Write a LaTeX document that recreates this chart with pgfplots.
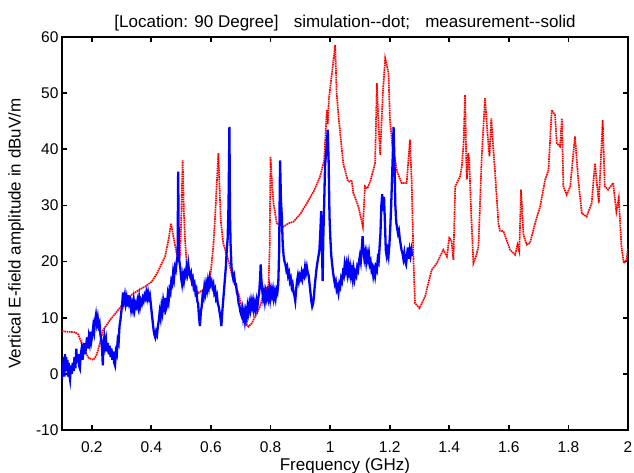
\documentclass[border=0pt]{standalone}
\usepackage{fontspec}
\setmainfont{Liberation Sans}
\usepackage{pgfplots}
\pgfplotsset{compat=1.18}
\begin{document}
\begin{tikzpicture}
\begin{axis}[
  scale only axis, width=566bp, height=393bp,
  xmin=0.1, xmax=2, ymin=-10, ymax=60,
  xtick={0.2,0.4,0.6,0.8,1,1.2,1.4,1.6,1.8,2},
  ytick={-10,0,10,20,30,40,50,60},
  tick align=inside, major tick length=5bp,
  axis line style={line width=1.8bp},
  every tick/.style={black, line width=1.8bp},
  /pgf/number format/assume math mode=true,
  font=\fontsize{17bp}{20bp}\selectfont,
  tick label style={font=\fontsize{15.5bp}{18bp}\selectfont},
  xticklabel style={yshift=-8bp},
  title={[Location: 90 Degree]\hspace{0.9em}simulation{-}{-}dot;\hspace{0.9em}measurement{-}{-}solid},
  xlabel={Frequency (GHz)},
  ylabel={Vertical E-field amplitude in dBuV/m},
  xlabel style={yshift=1bp},
  ylabel style={yshift=5bp},
  title style={yshift=-4bp},
]
\addplot[red, line width=1.7bp, dash pattern=on 1.6bp off 0.7bp] coordinates {
(0.100,7.6)(0.120,7.5)(0.144,7.4)(0.155,7.0)(0.165,5.5)(0.175,4.2)(0.190,2.8)(0.205,2.5)
(0.215,3.2)(0.225,5.0)(0.238,7.8)(0.260,9.5)(0.289,11.4)(0.310,12.8)(0.334,14.1)(0.360,15.0)
(0.380,15.6)(0.401,16.4)(0.420,18.0)(0.446,20.9)(0.458,24.0)(0.466,26.8)(0.472,25.0)(0.479,23.0)
(0.490,20.3)(0.496,21.0)(0.500,27.0)(0.505,38.0)(0.509,29.0)(0.513,24.0)(0.518,20.0)(0.524,18.0)
(0.541,15.6)(0.558,14.4)(0.574,15.0)(0.597,17.0)(0.608,22.7)(0.614,28.0)(0.619,33.4)(0.625,39.3)
(0.629,33.0)(0.633,27.4)(0.641,23.3)(0.658,20.3)(0.675,16.7)(0.692,14.4)(0.703,12.0)(0.714,9.0)
(0.726,8.4)(0.737,9.0)(0.748,10.2)(0.765,12.0)(0.780,15.0)(0.793,15.6)(0.797,22.0)(0.800,38.7)
(0.805,34.0)(0.810,30.4)(0.821,26.8)(0.843,26.2)(0.860,26.8)(0.877,27.1)(0.900,28.5)(0.922,30.4)
(0.945,32.5)(0.966,35.1)(0.980,38.0)(0.989,47.0)(0.992,44.5)(0.996,49.0)(1.005,53.0)(1.017,58.6)
(1.022,50.0)(1.028,46.0)(1.044,37.5)(1.056,35.1)(1.060,34.3)(1.067,34.2)(1.072,34.5)(1.078,32.2)
(1.095,29.8)(1.110,26.2)(1.117,33.4)(1.125,33.0)(1.134,34.2)(1.151,37.5)(1.157,51.8)(1.162,45.0)
(1.168,39.0)(1.177,50.0)(1.185,56.2)(1.196,53.6)(1.201,45.2)(1.210,40.0)(1.218,38.1)(1.225,36.0)
(1.240,34.0)(1.257,34.0)(1.268,41.7)(1.274,34.0)(1.280,20.0)(1.285,12.6)(1.300,11.7)(1.319,13.8)
(1.335,17.3)(1.341,18.5)(1.358,19.7)(1.380,22.1)(1.392,20.9)(1.400,24.2)(1.407,23.8)(1.414,20.3)
(1.420,33.4)(1.436,35.1)(1.442,36.9)(1.448,41.0)(1.453,49.7)(1.457,38.0)(1.459,34.6)(1.464,39.3)
(1.467,38.0)(1.474,28.0)(1.481,19.7)(1.490,21.0)(1.498,22.7)(1.509,38.7)(1.520,49.1)(1.528,43.0)
(1.535,38.7)(1.541,45.5)(1.548,40.0)(1.554,35.7)(1.565,26.8)(1.570,25.5)(1.582,25.4)(1.604,22.1)
(1.621,21.2)(1.629,23.0)(1.635,21.8)(1.641,32.8)(1.649,24.8)(1.660,23.0)(1.671,23.3)(1.688,26.8)
(1.705,29.8)(1.722,34.6)(1.733,36.3)(1.744,47.0)(1.755,46.1)(1.761,41.1)(1.772,40.5)(1.778,45.5)
(1.783,33.4)(1.794,31.9)(1.806,33.4)(1.822,42.3)(1.833,34.6)(1.845,28.6)(1.861,28.0)(1.878,30.4)
(1.889,37.5)(1.902,30.4)(1.915,45.2)(1.922,33.4)(1.933,32.8)(1.950,34.0)(1.961,28.9)(1.969,31.3)
(1.978,22.7)(1.986,19.7)(1.995,20.3)(2.000,22.4)
};
\addplot[blue, line width=2.3bp] coordinates {
(0.100,-1)(0.102,2)(0.104,0)(0.106,3)(0.108,-0.5)(0.110,3.5)(0.112,1)(0.114,3)(0.116,0.5)(0.118,2.5)
(0.120,-0.5)(0.122,2)(0.124,0)(0.127,-1)(0.130,1.5)(0.133,0)(0.136,2)(0.139,0.5)(0.142,3)(0.145,1)
(0.148,4.5)(0.151,2)(0.154,3.5)(0.157,1.5)(0.160,1)(0.163,3.5)(0.166,4.5)(0.169,2.5)(0.172,4)(0.175,5.5)
(0.178,3.5)(0.181,5)(0.184,6.5)(0.187,4.5)(0.190,6.5)(0.193,5.5)(0.196,7.5)(0.199,6)(0.202,7)(0.205,8.5)
(0.208,7.5)(0.211,9.5)(0.214,10.5)(0.217,9)(0.220,10)(0.223,8.5)(0.226,9)(0.229,7)(0.232,6)(0.235,4)
(0.237,1.5)(0.239,5)(0.242,6.5)(0.245,5)(0.248,6)(0.251,4)(0.254,5.5)(0.257,3.5)(0.260,5)(0.263,3)
(0.266,4.5)(0.269,2.5)(0.272,4)(0.275,2)(0.278,1.5)(0.281,4)(0.284,3.5)(0.287,6)(0.290,5.5)(0.293,8.5)
(0.296,9.5)(0.299,11)(0.302,12.5)(0.305,14.5)(0.308,13)(0.311,14)(0.314,12.5)(0.317,13.5)(0.320,12)(0.323,14)
(0.326,12.5)(0.329,13)(0.332,11.5)(0.335,12.5)(0.338,11.5)(0.341,13)(0.344,11.5)(0.347,12.5)(0.350,12)(0.353,13)
(0.356,12)(0.359,13.5)(0.362,12)(0.365,13)(0.368,12.5)(0.371,13.5)(0.374,13)(0.377,14)(0.380,13.5)(0.383,14.5)
(0.386,13.5)(0.389,14.5)(0.392,13.5)(0.395,14)(0.398,12.5)(0.401,11)(0.404,9.5)(0.407,8)(0.410,7)(0.413,6.5)
(0.416,7.5)(0.419,7)(0.422,8.5)(0.425,9.5)(0.428,11)(0.431,10)(0.434,12)(0.437,11)(0.440,13)(0.443,12)
(0.446,13.5)(0.449,11.5)(0.452,12)(0.455,14)(0.458,13)(0.461,15)(0.464,14.5)(0.467,16.5)(0.470,16)(0.473,18)
(0.476,17)(0.479,19)(0.482,18.5)(0.485,20)(0.488,21)(0.490,36)(0.492,22)(0.494,20)(0.497,19)(0.500,17)
(0.503,16)(0.506,17.5)(0.509,16.5)(0.512,18)(0.515,17.5)(0.518,19)(0.521,18)(0.524,19.5)(0.527,18)(0.530,17.5)
(0.533,18)(0.536,16.5)(0.539,17)(0.542,15.5)(0.545,16)(0.548,14.5)(0.551,15)(0.554,13)(0.557,12.5)(0.560,10)
(0.563,8.5)(0.566,11)(0.569,12)(0.572,14)(0.575,13.5)(0.578,15.5)(0.581,14.5)(0.584,16)(0.587,15)(0.590,16.5)
(0.593,15.5)(0.596,17)(0.599,16)(0.602,16.5)(0.605,15.5)(0.608,16)(0.611,14.5)(0.614,15)(0.617,13.5)(0.620,14)
(0.623,12.5)(0.626,12)(0.629,11)(0.632,10)(0.635,8.5)(0.638,11)(0.641,13)(0.644,15)(0.647,17)(0.650,19)
(0.653,22)(0.656,24)(0.659,30)(0.662,44)(0.664,28)(0.666,23)(0.669,19)(0.672,18)(0.675,17)(0.678,17.5)
(0.681,16)(0.684,16)(0.687,14.5)(0.690,14)(0.693,12.5)(0.696,12)(0.699,11)(0.702,10.5)(0.705,11.5)(0.708,10)
(0.711,11)(0.714,9.5)(0.717,11)(0.720,10)(0.723,12)(0.726,11)(0.729,12.5)(0.732,11.5)(0.735,13)(0.738,12)
(0.741,13)(0.744,11.5)(0.747,12.5)(0.750,11.5)(0.753,13)(0.756,12)(0.759,13.5)(0.762,14.5)(0.765,17)(0.767,19.5)
(0.769,17)(0.772,15)(0.775,13.5)(0.778,14.5)(0.781,13)(0.784,14.5)(0.787,13.5)(0.790,14.5)(0.793,13.5)(0.796,15)
(0.799,13.5)(0.802,15)(0.805,14)(0.808,15)(0.811,13.5)(0.814,14.5)(0.817,13.5)(0.820,15)(0.823,14.5)(0.826,16)
(0.829,22)(0.832,38)(0.835,31)(0.838,28)(0.841,23)(0.844,21)(0.847,20)(0.850,19.5)(0.853,18.5)(0.856,19)
(0.859,17.5)(0.862,18)(0.865,16.5)(0.868,17)(0.871,15.5)(0.874,16)(0.877,14.5)(0.880,14)(0.883,13)(0.886,15)
(0.889,16.5)(0.892,17.5)(0.895,16.5)(0.898,17.5)(0.901,17)(0.904,18)(0.907,17)(0.910,18)(0.913,17.5)(0.916,19)
(0.919,18)(0.922,19)(0.925,18)(0.928,17.5)(0.931,16)(0.934,14.5)(0.937,13)(0.940,12)(0.943,12.5)(0.946,14)
(0.949,16)(0.952,17.5)(0.955,19)(0.958,20)(0.961,21)(0.964,22)(0.967,25)(0.970,29)(0.973,22)(0.975,16.5)
(0.977,24)(0.980,30)(0.983,37)(0.986,39)(0.989,41)(0.992,43.5)(0.995,38)(0.998,28)(1.001,24)(1.004,21)
(1.007,19.5)(1.010,18)(1.013,17)(1.016,16)(1.019,16.5)(1.022,15)(1.025,15.5)(1.028,14.5)(1.031,16)(1.034,15.5)
(1.037,17)(1.040,16.5)(1.043,18)(1.046,17.5)(1.049,19.5)(1.052,18.5)(1.055,19.5)(1.058,18)(1.061,19.5)(1.064,18)
(1.067,19)(1.070,17.5)(1.073,18.5)(1.076,17)(1.079,18.5)(1.082,17)(1.085,18)(1.088,17.5)(1.091,19)(1.094,18.5)
(1.097,20)(1.100,21)(1.103,20)(1.106,22)(1.109,24.5)(1.112,22)(1.115,20.5)(1.118,21.5)(1.121,20)(1.124,21.5)
(1.127,20.5)(1.130,21.5)(1.133,19.5)(1.136,20)(1.139,18.5)(1.142,19)(1.145,17.5)(1.148,18.5)(1.151,17.5)(1.154,19)
(1.157,18.5)(1.160,20.5)(1.163,20)(1.166,22.5)(1.169,25)(1.172,30)(1.175,32)(1.178,29)(1.181,31.5)(1.184,27)
(1.187,22)(1.190,21)(1.193,22)(1.196,21)(1.199,23)(1.202,26)(1.205,30)(1.208,35)(1.211,40)(1.213,44)
(1.216,38)(1.219,30)(1.222,27)(1.225,26)(1.228,25)(1.231,25.5)(1.234,24)(1.237,23)(1.240,22)(1.243,21.5)
(1.246,20.5)(1.249,21.5)(1.252,20)(1.255,19.5)(1.258,21)(1.261,22.5)(1.264,20.5)(1.267,22)(1.270,21)(1.273,22)
(1.275,21)
};
\end{axis}
\pgfresetboundingbox
\path ([shift={(-62bp,-43bp)}]current axis.south west) rectangle ([shift={(572bp,430bp)}]current axis.south west);
\end{tikzpicture}
\end{document}
